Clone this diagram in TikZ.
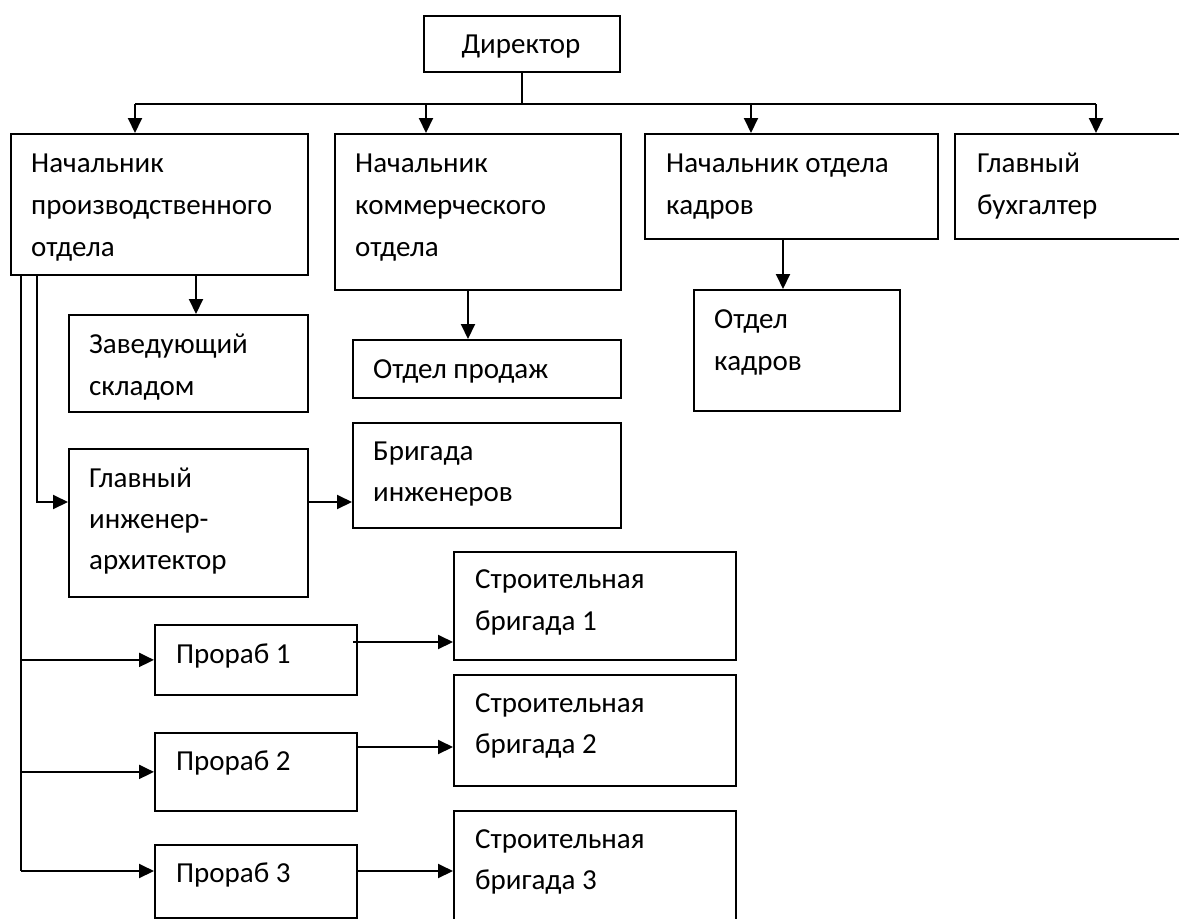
\documentclass[tikz,border=0pt]{standalone}
\usepackage{fontspec}
\setmainfont{Carlito}
\usetikzlibrary{arrows.meta}
\begin{document}
\begin{tikzpicture}[x=1pt,y=-1pt,
  box/.style={draw, line width=1.8pt, inner sep=0pt, anchor=north west},
  txt/.style={anchor=base west, inner sep=0pt, font=\fontsize{29}{33}\selectfont},
  txtc/.style={anchor=base, inner sep=0pt, font=\fontsize{29}{33}\selectfont},
  ln/.style={line width=2pt},
  arr/.style={line width=2pt, -{Triangle[length=15pt,width=14pt]}}]
\useasboundingbox (0,0) rectangle (1179,919);
\clip (0,0) rectangle (1179,919);
\fill[white] (0,0) rectangle (1179,919);
% boxes
\node[box, minimum width=196pt, minimum height=56pt] (dir) at (423,15) {};
\node[box, minimum width=297pt, minimum height=141pt] (npo) at (10,133) {};
\node[box, minimum width=286pt, minimum height=156pt] (nko) at (334,133) {};
\node[box, minimum width=293pt, minimum height=105pt] (nok) at (644,133) {};
\node[box, minimum width=240pt, minimum height=105pt] (gb) at (954,133) {};
\node[box, minimum width=206pt, minimum height=121pt] (ok) at (693,289) {};
\node[box, minimum width=239pt, minimum height=97pt] (zs) at (68,314) {};
\node[box, minimum width=268pt, minimum height=58pt] (op) at (352,339) {};
\node[box, minimum width=239pt, minimum height=148pt] (gia) at (68,448) {};
\node[box, minimum width=268pt, minimum height=105pt] (bi) at (352,422) {};
\node[box, minimum width=202pt, minimum height=70pt] (pr1) at (154,624) {};
\node[box, minimum width=202pt, minimum height=78pt] (pr2) at (154,732) {};
\node[box, minimum width=202pt, minimum height=73pt] (pr3) at (154,844) {};
\node[box, minimum width=282pt, minimum height=108pt] (sb1) at (453,551) {};
\node[box, minimum width=282pt, minimum height=111pt] (sb2) at (453,674) {};
\node[box, minimum width=282pt, minimum height=130pt] (sb3) at (453,810) {};
% texts
\node[txtc] (tdir) at (521,53) {Директор};
\node[txt] (tnpo1) at (31,172) {Начальник};
\node[txt] (tnpo2) at (31,214) {производственного};
\node[txt] (tnpo3) at (31,256) {отдела};
\node[txt] (tnko1) at (355,172) {Начальник};
\node[txt] (tnko2) at (355,214) {коммерческого};
\node[txt] (tnko3) at (355,256) {отдела};
\node[txt] (tnok1) at (666,172) {Начальник отдела};
\node[txt] (tnok2) at (666,214) {кадров};
\node[txt] (tgb1) at (977,172) {Главный};
\node[txt] (tgb2) at (977,214) {бухгалтер};
\node[txt] (tok1) at (714,328) {Отдел};
\node[txt] (tok2) at (714,370) {кадров};
\node[txt] (tzs1) at (89,353) {Заведующий};
\node[txt] (tzs2) at (89,395) {складом};
\node[txt] (top1) at (373,378) {Отдел продаж};
\node[txt] (tgia1) at (89,487) {Главный};
\node[txt] (tgia2) at (89,528) {инженер-};
\node[txt] (tgia3) at (89,569) {архитектор};
\node[txt] (tbi1) at (373,460) {Бригада};
\node[txt] (tbi2) at (373,501) {инженеров};
\node[txt] (tpr1) at (176,663) {Прораб 1};
\node[txt] (tpr2) at (176,770) {Прораб 2};
\node[txt] (tpr3) at (176,882) {Прораб 3};
\node[txt] (tsb11) at (475,588) {Строительная};
\node[txt] (tsb12) at (475,630) {бригада 1};
\node[txt] (tsb21) at (475,712) {Строительная};
\node[txt] (tsb22) at (475,753) {бригада 2};
\node[txt] (tsb31) at (475,848) {Строительная};
\node[txt] (tsb32) at (475,889) {бригада 3};
% top bus
\coordinate (busL) at (135,104);
\coordinate (busR) at (1096,104);
\coordinate (b2) at (426,104);
\coordinate (b3) at (751,104);
\draw[ln] (dir.south) -- (dir.south |- busL);
\draw[ln] (busL) -- (busR);
\draw[arr] (busL) -- (busL |- npo.north);
\draw[arr] (b2) -- (b2 |- nko.north);
\draw[arr] (b3) -- (b3 |- nok.north);
\draw[arr] (busR) -- (busR |- gb.north);
% second level
\coordinate (k1) at (783,238);
\draw[arr] (k1) -- (k1 |- ok.north);
\coordinate (z1) at (196,274);
\draw[arr] (z1) -- (z1 |- zs.north);
\coordinate (o1) at (468,289);
\draw[arr] (o1) -- (o1 |- op.north);
% engineer branch
\coordinate (g1) at (37,502);
\draw[arr] (npo.south -| g1) -- (g1) -- (g1 -| gia.west);
\draw[arr] (gia.east |- g1) -- (bi.west |- g1);
% foremen trunk
\coordinate (t1) at (21,871);
\draw[ln] (npo.south -| t1) -- (t1);
\draw[arr] (pr1.west -| t1) -- (pr1.west);
\draw[arr] (pr2.west -| t1) -- (pr2.west);
\draw[arr] (t1) -- (t1 -| pr3.west);
% foremen to brigades
\coordinate (s1) at (353,642);
\coordinate (s2) at (356,747);
\draw[arr] (s1) -- (s1 -| sb1.west);
\draw[arr] (s2) -- (s2 -| sb2.west);
\draw[arr] (pr3.east |- t1) -- (sb3.west |- t1);
\end{tikzpicture}
\end{document}
